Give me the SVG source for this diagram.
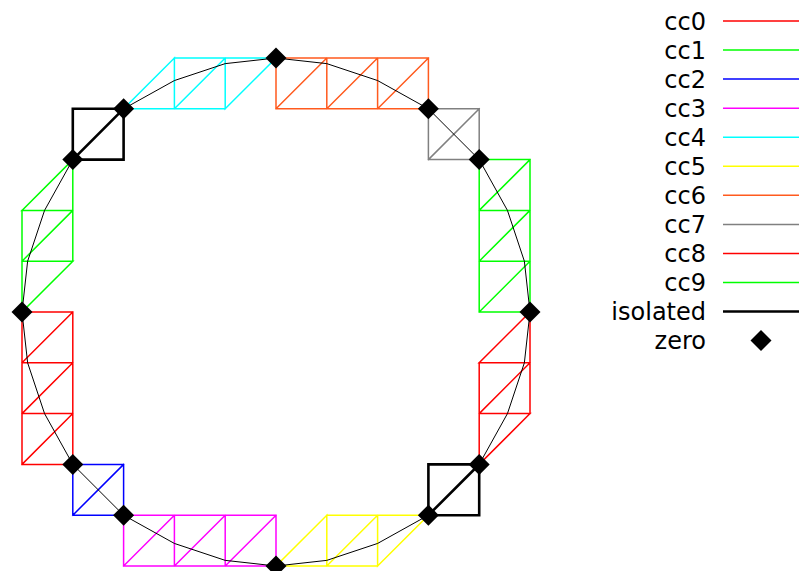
<svg xmlns="http://www.w3.org/2000/svg" xmlns:xlink="http://www.w3.org/1999/xlink" width="799" height="571" viewBox="0 0 799 571">
<style>
.cell{fill:none;stroke-width:1.5;stroke-linejoin:miter;stroke-linecap:square}
.iso{fill:none;stroke:#000;stroke-width:2.6;stroke-linecap:square}
.curve{fill:none;stroke:#000;stroke-width:1}
.lg{font-family:"DejaVu Sans",sans-serif;font-size:24px;fill:#000;text-anchor:end}
.ll{stroke-width:1.5}
</style>
<defs>
<path id="dm" d="M0 -10.5 L10.5 0 L0 10.5 L-10.5 0 Z" fill="#000"/>
</defs>
<rect width="799" height="571" fill="#fff"/>
<g id="cells">
<g id="cc4"><path class="cell" stroke="#00ffff" d="M174.4 58 V108.8 H123.6 Z M174.4 58 H225.2 V108.8 H174.4 Z M174.4 108.8 L225.2 58 M225.2 58 H276 L225.2 108.8 Z"/></g>
<g id="cc6"><path class="cell" stroke="#ff5a1e" d="M276 58 H428.4 V108.8 H276 Z M326.8 58 V108.8 M377.6 58 V108.8 M276 108.8 L326.8 58 M326.8 108.8 L377.6 58 M377.6 108.8 L428.4 58"/></g>
<g id="cc7"><path class="cell" stroke="#808080" d="M428.4 108.8 H479.2 V159.6 H428.4 Z M428.4 159.6 L479.2 108.8"/></g>
<g id="cc9"><path class="cell" stroke="#00ff00" d="M479.2 159.6 H530 V312 H479.2 Z M479.2 210.4 H530 M479.2 261.2 H530 M479.2 210.4 L530 159.6 M479.2 261.2 L530 210.4 M479.2 312 L530 261.2"/></g>
<g id="cc8"><path class="cell" stroke="#ff0000" d="M530 312 V362.8 H479.2 Z M479.2 362.8 H530 V413.6 H479.2 Z M479.2 413.6 L530 362.8 M479.2 413.6 H530 L479.2 464.4 Z"/></g>
<g id="cc5"><path class="cell" stroke="#ffff00" d="M326.8 515.2 V566 H276 Z M326.8 515.2 H377.6 V566 H326.8 Z M326.8 566 L377.6 515.2 M377.6 515.2 H428.4 L377.6 566 Z"/></g>
<g id="cc3"><path class="cell" stroke="#ff00ff" d="M123.6 515.2 H276 V566 H123.6 Z M174.4 515.2 V566 M225.2 515.2 V566 M123.6 566 L174.4 515.2 M174.4 566 L225.2 515.2 M225.2 566 L276 515.2"/></g>
<g id="cc2"><path class="cell" stroke="#0000ff" d="M72.8 464.4 H123.6 V515.2 H72.8 Z M72.8 515.2 L123.6 464.4"/></g>
<g id="cc0"><path class="cell" stroke="#ff0000" d="M22 312 H72.8 V464.4 H22 Z M22 362.8 H72.8 M22 413.6 H72.8 M22 362.8 L72.8 312 M22 413.6 L72.8 362.8 M22 464.4 L72.8 413.6"/></g>
<g id="cc1"><path class="cell" stroke="#00ff00" d="M72.8 159.6 V210.4 H22 Z M22 210.4 H72.8 V261.2 H22 Z M22 261.2 L72.8 210.4 M22 261.2 H72.8 L22 312 Z"/></g>
<g id="iso1"><path class="iso" d="M72.8 108.8 H123.6 V159.6 H72.8 Z M72.8 159.6 L123.6 108.8"/></g>
<g id="iso2"><path class="iso" d="M428.4 464.4 H479.2 V515.2 H428.4 Z M428.4 515.2 L479.2 464.4"/></g>
</g>
<g id="connectors">
<polygon class="curve" points="530,312 524.36,261.2 507.44,210.4 479.2,159.6 428.4,108.8 377.6,80.56 326.8,63.64 276,58 225.2,63.64 174.4,80.56 123.6,108.8 72.8,159.6 44.56,210.4 27.64,261.2 22,312 27.64,362.8 44.56,413.6 72.8,464.4 123.6,515.2 174.4,543.44 225.2,560.36 276,566 326.8,560.36 377.6,543.44 428.4,515.2 479.2,464.4 507.44,413.6 524.36,362.8"/>
</g>
<g id="zeros">
<use xlink:href="#dm" x="530" y="312"/>
<use xlink:href="#dm" x="479.2" y="159.6"/>
<use xlink:href="#dm" x="428.4" y="108.8"/>
<use xlink:href="#dm" x="276" y="58"/>
<use xlink:href="#dm" x="123.6" y="108.8"/>
<use xlink:href="#dm" x="72.8" y="159.6"/>
<use xlink:href="#dm" x="22" y="312"/>
<use xlink:href="#dm" x="72.8" y="464.4"/>
<use xlink:href="#dm" x="123.6" y="515.2"/>
<use xlink:href="#dm" x="276" y="566"/>
<use xlink:href="#dm" x="428.4" y="515.2"/>
<use xlink:href="#dm" x="479.2" y="464.4"/>
</g>
<g id="legend">
<text class="lg" x="706" y="29.5">cc0</text><line class="ll" x1="723" y1="21" x2="800" y2="21" stroke="#ff0000"/>
<text class="lg" x="706" y="58.5">cc1</text><line class="ll" x1="723" y1="50" x2="800" y2="50" stroke="#00ff00"/>
<text class="lg" x="706" y="87.6">cc2</text><line class="ll" x1="723" y1="79.1" x2="800" y2="79.1" stroke="#0000ff"/>
<text class="lg" x="706" y="116.7">cc3</text><line class="ll" x1="723" y1="108.2" x2="800" y2="108.2" stroke="#ff00ff"/>
<text class="lg" x="706" y="145.7">cc4</text><line class="ll" x1="723" y1="137.2" x2="800" y2="137.2" stroke="#00ffff"/>
<text class="lg" x="706" y="174.8">cc5</text><line class="ll" x1="723" y1="166.3" x2="800" y2="166.3" stroke="#ffff00"/>
<text class="lg" x="706" y="203.8">cc6</text><line class="ll" x1="723" y1="195.3" x2="800" y2="195.3" stroke="#ff5a1e"/>
<text class="lg" x="706" y="232.9">cc7</text><line class="ll" x1="723" y1="224.4" x2="800" y2="224.4" stroke="#808080"/>
<text class="lg" x="706" y="261.9">cc8</text><line class="ll" x1="723" y1="253.4" x2="800" y2="253.4" stroke="#ff0000"/>
<text class="lg" x="706" y="291">cc9</text><line class="ll" x1="723" y1="282.5" x2="800" y2="282.5" stroke="#00ff00"/>
<text class="lg" x="706" y="320">isolated</text><line x1="723" y1="311.5" x2="800" y2="311.5" stroke="#000" stroke-width="2.6"/>
<text class="lg" x="706" y="349.1">zero</text><use xlink:href="#dm" x="761" y="340.6"/>
</g>
</svg>
